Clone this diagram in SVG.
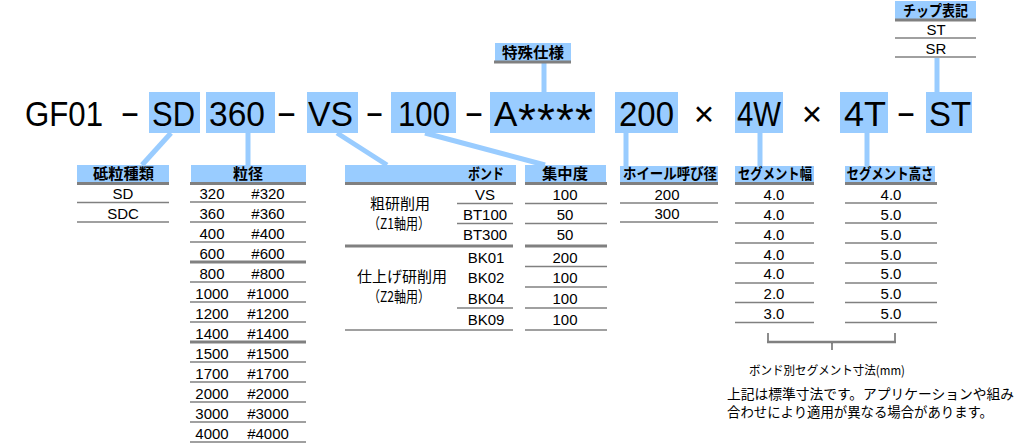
<svg xmlns="http://www.w3.org/2000/svg" width="1028" height="445" viewBox="0 0 1028 445">
<style>
.bg{fill:#ffffff}
.hdr{fill:#99CCFF}
.hl{stroke:#808080;stroke-width:3}
.rl{stroke:#808080;stroke-width:1.5}
.con{stroke:#99CCFF;stroke-width:5;fill:none;stroke-linecap:butt}
.brk{stroke:#404040;stroke-width:1.2;fill:none}
.brh{stroke:#808080;stroke-width:2.5}
.m{font-family:"Liberation Sans",Arial,sans-serif;font-size:35px;fill:#000}
.t{font-family:"Liberation Sans",Arial,sans-serif;font-size:15px;fill:#000;text-anchor:middle}
.j{font-family:"Noto Sans CJK JP",sans-serif;font-size:15px;fill:#000;text-anchor:middle}
.h{font-family:"Noto Sans CJK JP",sans-serif;font-size:15px;font-weight:bold;fill:#000;text-anchor:middle}
.n{font-family:"Noto Sans CJK JP",sans-serif;font-size:14px;fill:#000}
</style>
<rect class="bg" x="0" y="0" width="1028" height="445"/>

<g id="connectors">
<line class="con" x1="171" y1="133" x2="142" y2="165"/>
<line class="con" x1="248" y1="133" x2="248" y2="165"/>
<line class="con" x1="337" y1="133" x2="387" y2="165"/>
<line class="con" x1="425" y1="133" x2="545" y2="165"/>
<line class="con" x1="544" y1="62" x2="544" y2="92"/>
<line class="con" x1="626" y1="133" x2="626" y2="166"/>
<line class="con" x1="760" y1="133" x2="760" y2="166"/>
<line class="con" x1="867" y1="133" x2="867" y2="166"/>
<line class="con" x1="937" y1="58" x2="937" y2="92"/>
</g>

<g id="code">
<rect class="hdr" x="149" y="92" width="51" height="41"/>
<rect class="hdr" x="206" y="92" width="69" height="41"/>
<rect class="hdr" x="307" y="92" width="51" height="41"/>
<rect class="hdr" x="391" y="92" width="65" height="41"/>
<rect class="hdr" x="490" y="92" width="105" height="41"/>
<rect class="hdr" x="615" y="92" width="63" height="41"/>
<rect class="hdr" x="735" y="92" width="48" height="41"/>
<rect class="hdr" x="840" y="92" width="48" height="41"/>
<rect class="hdr" x="926" y="92" width="46" height="41"/>
<text class="m" x="25" y="126" textLength="78" lengthAdjust="spacingAndGlyphs">GF01</text>
<text class="m" x="120" y="124" textLength="20" lengthAdjust="spacingAndGlyphs">-</text>
<text class="m" x="152" y="126" textLength="43" lengthAdjust="spacingAndGlyphs">SD</text>
<text class="m" x="209" y="126" textLength="56" lengthAdjust="spacingAndGlyphs">360</text>
<text class="m" x="276" y="124" textLength="21" lengthAdjust="spacingAndGlyphs">-</text>
<text class="m" x="308" y="126" textLength="45" lengthAdjust="spacingAndGlyphs">VS</text>
<text class="m" x="365" y="124" textLength="19" lengthAdjust="spacingAndGlyphs">-</text>
<text class="m" x="398" y="126" textLength="52" lengthAdjust="spacingAndGlyphs">100</text>
<text class="m" x="464" y="124" textLength="20" lengthAdjust="spacingAndGlyphs">-</text>
<text class="m" x="494" y="126">A<tspan x="518 537 556 575" y="136" font-size="46">****</tspan></text>
<text class="m" x="619" y="126" textLength="55" lengthAdjust="spacingAndGlyphs">200</text>
<text class="m" x="704" y="126" text-anchor="middle">×</text>
<text class="m" x="737" y="126" textLength="44" lengthAdjust="spacingAndGlyphs">4W</text>
<text class="m" x="812" y="126" text-anchor="middle">×</text>
<text class="m" x="844" y="126" textLength="42" lengthAdjust="spacingAndGlyphs">4T</text>
<text class="m" x="896" y="124" textLength="20" lengthAdjust="spacingAndGlyphs">-</text>
<text class="m" x="929" y="126" textLength="42" lengthAdjust="spacingAndGlyphs">ST</text>
</g>

<g id="tokushu">
<rect class="hdr" x="495" y="43" width="76" height="18"/>
<line class="hl" x1="494" y1="62" x2="571" y2="62"/>
<text class="h" x="533" y="57.5" textLength="62" lengthAdjust="spacingAndGlyphs">特殊仕様</text>
</g>

<g id="chip">
<rect class="hdr" x="895" y="1" width="81" height="18"/>
<line class="hl" x1="895" y1="20" x2="976" y2="20"/>
<text class="h" x="935.5" y="15.5" textLength="65" lengthAdjust="spacingAndGlyphs">チップ表記</text>
<text class="t" x="936" y="35">ST</text>
<line class="rl" x1="895" y1="38" x2="976" y2="38"/>
<text class="t" x="936" y="53.5">SR</text>
<line class="rl" x1="895" y1="57" x2="976" y2="57"/>
</g>

<g id="toryu">
<rect class="hdr" x="77" y="165" width="92" height="17"/>
<line class="hl" x1="77" y1="183.5" x2="169" y2="183.5"/>
<text class="h" x="123.5" y="179" textLength="61" lengthAdjust="spacingAndGlyphs">砥粒種類</text>
<text class="t" x="123" y="199">SD</text>
<line class="rl" x1="77" y1="202.5" x2="169" y2="202.5"/>
<text class="t" x="123" y="218.5">SDC</text>
<line class="rl" x1="77" y1="222" x2="169" y2="222"/>
</g>

<g id="ryukei">
<rect class="hdr" x="191" y="165" width="115" height="17"/>
<line class="hl" x1="190" y1="183.5" x2="306" y2="183.5"/>
<text class="h" x="248" y="179" textLength="30" lengthAdjust="spacingAndGlyphs">粒径</text>
<text class="t" x="212" y="198.5">320</text><text class="t" x="268" y="198.5">#320</text>
<line class="rl" x1="190" y1="202" x2="306" y2="202"/>
<text class="t" x="212" y="218.5">360</text><text class="t" x="268" y="218.5">#360</text>
<line class="rl" x1="190" y1="222" x2="306" y2="222"/>
<text class="t" x="212" y="238.5">400</text><text class="t" x="268" y="238.5">#400</text>
<line class="rl" x1="190" y1="242" x2="306" y2="242"/>
<text class="t" x="212" y="258.5">600</text><text class="t" x="268" y="258.5">#600</text>
<line class="hl" x1="190" y1="262" x2="306" y2="262"/>
<text class="t" x="212" y="278.5">800</text><text class="t" x="268" y="278.5">#800</text>
<line class="rl" x1="190" y1="282" x2="306" y2="282"/>
<text class="t" x="212" y="298.5">1000</text><text class="t" x="268" y="298.5">#1000</text>
<line class="rl" x1="190" y1="302" x2="306" y2="302"/>
<text class="t" x="212" y="318.5">1200</text><text class="t" x="268" y="318.5">#1200</text>
<line class="rl" x1="190" y1="322" x2="306" y2="322"/>
<text class="t" x="212" y="338.5">1400</text><text class="t" x="268" y="338.5">#1400</text>
<line class="hl" x1="190" y1="342" x2="306" y2="342"/>
<text class="t" x="212" y="358.5">1500</text><text class="t" x="268" y="358.5">#1500</text>
<line class="rl" x1="190" y1="362" x2="306" y2="362"/>
<text class="t" x="212" y="378.5">1700</text><text class="t" x="268" y="378.5">#1700</text>
<line class="rl" x1="190" y1="382" x2="306" y2="382"/>
<text class="t" x="212" y="398.5">2000</text><text class="t" x="268" y="398.5">#2000</text>
<line class="rl" x1="190" y1="402" x2="306" y2="402"/>
<text class="t" x="212" y="418.5">3000</text><text class="t" x="268" y="418.5">#3000</text>
<line class="rl" x1="190" y1="422" x2="306" y2="422"/>
<text class="t" x="212" y="438.5">4000</text><text class="t" x="268" y="438.5">#4000</text>
<line class="rl" x1="190" y1="442" x2="306" y2="442"/>
</g>

<g id="bond">
<rect class="hdr" x="345" y="165" width="171" height="17"/>
<line class="hl" x1="345" y1="183.5" x2="516" y2="183.5"/>
<text class="h" x="504" y="179" textLength="36" lengthAdjust="spacingAndGlyphs" style="text-anchor:end">ボンド</text>
<text class="j" x="400" y="209">粗研削用</text>
<text class="j" x="399" y="229" textLength="62" lengthAdjust="spacingAndGlyphs">（Z1軸用）</text>
<text class="j" x="402" y="282">仕上げ研削用</text>
<text class="j" x="399" y="302" textLength="62" lengthAdjust="spacingAndGlyphs">（Z2軸用）</text>
<text class="t" x="485" y="199.5">VS</text>
<line class="rl" x1="457" y1="203.5" x2="513" y2="203.5"/>
<text class="t" x="485" y="219.5">BT100</text>
<line class="rl" x1="457" y1="223.5" x2="513" y2="223.5"/>
<text class="t" x="485" y="240">BT300</text>
<line class="hl" x1="345" y1="246" x2="513" y2="246"/>
<text class="t" x="486" y="262.5">BK01</text>
<text class="t" x="486" y="283">BK02</text>
<text class="t" x="486" y="303.5">BK04</text>
<line class="rl" x1="457" y1="308" x2="513" y2="308"/>
<text class="t" x="486" y="325">BK09</text>
<line class="rl" x1="345" y1="330" x2="513" y2="330"/>
</g>

<g id="shuchudo">
<rect class="hdr" x="525" y="165" width="81" height="17"/>
<line class="hl" x1="525" y1="183.5" x2="607" y2="183.5"/>
<text class="h" x="565" y="179" textLength="46" lengthAdjust="spacingAndGlyphs">集中度</text>
<text class="t" x="565" y="199.5">100</text>
<line class="rl" x1="525" y1="203.5" x2="607" y2="203.5"/>
<text class="t" x="565" y="219.5">50</text>
<line class="rl" x1="525" y1="223.5" x2="607" y2="223.5"/>
<text class="t" x="565" y="240">50</text>
<line class="hl" x1="525" y1="246" x2="607" y2="246"/>
<text class="t" x="565" y="262.5">200</text>
<line class="rl" x1="525" y1="266.5" x2="607" y2="266.5"/>
<text class="t" x="565" y="283">100</text>
<line class="rl" x1="525" y1="287" x2="607" y2="287"/>
<text class="t" x="565" y="303.5">100</text>
<line class="rl" x1="525" y1="308" x2="607" y2="308"/>
<text class="t" x="565" y="325">100</text>
<line class="rl" x1="525" y1="330" x2="607" y2="330"/>
</g>

<g id="wheel">
<rect class="hdr" x="620" y="166" width="98" height="16"/>
<line class="hl" x1="620" y1="183.5" x2="718" y2="183.5"/>
<text class="h" x="670" y="179" textLength="94" lengthAdjust="spacingAndGlyphs">ホイール呼び径</text>
<text class="t" x="667" y="199.5">200</text>
<line class="rl" x1="620" y1="203" x2="718" y2="203"/>
<text class="t" x="667" y="218.5">300</text>
<line class="rl" x1="620" y1="222" x2="718" y2="222"/>
</g>

<g id="segwidth">
<rect class="hdr" x="735" y="166" width="79" height="16"/>
<line class="hl" x1="735" y1="183.5" x2="814" y2="183.5"/>
<text class="h" x="775" y="179" textLength="74" lengthAdjust="spacingAndGlyphs">セグメント幅</text>
<text class="t" x="774" y="200">4.0</text>
<line class="rl" x1="735" y1="203" x2="814" y2="203"/>
<text class="t" x="774" y="220">4.0</text>
<line class="rl" x1="735" y1="223" x2="814" y2="223"/>
<text class="t" x="774" y="240">4.0</text>
<line class="rl" x1="735" y1="243" x2="814" y2="243"/>
<text class="t" x="774" y="259.5">4.0</text>
<line class="rl" x1="735" y1="263" x2="814" y2="263"/>
<text class="t" x="774" y="279">4.0</text>
<line class="rl" x1="735" y1="283" x2="814" y2="283"/>
<text class="t" x="774" y="299">2.0</text>
<line class="rl" x1="735" y1="302.5" x2="814" y2="302.5"/>
<text class="t" x="774" y="318.5">3.0</text>
<line class="rl" x1="735" y1="322.5" x2="814" y2="322.5"/>
</g>

<g id="segheight">
<rect class="hdr" x="845" y="166" width="90" height="16"/>
<line class="hl" x1="845" y1="183.5" x2="937" y2="183.5"/>
<text class="h" x="890" y="179" textLength="87" lengthAdjust="spacingAndGlyphs">セグメント高さ</text>
<text class="t" x="891" y="200">4.0</text>
<line class="rl" x1="845" y1="203" x2="937" y2="203"/>
<text class="t" x="891" y="220">5.0</text>
<line class="rl" x1="845" y1="223" x2="937" y2="223"/>
<text class="t" x="891" y="240">5.0</text>
<line class="rl" x1="845" y1="243" x2="937" y2="243"/>
<text class="t" x="891" y="259.5">5.0</text>
<line class="rl" x1="845" y1="263" x2="937" y2="263"/>
<text class="t" x="891" y="279">5.0</text>
<line class="rl" x1="845" y1="283" x2="937" y2="283"/>
<text class="t" x="891" y="299">5.0</text>
<line class="rl" x1="845" y1="302.5" x2="937" y2="302.5"/>
<text class="t" x="891" y="318.5">5.0</text>
<line class="rl" x1="845" y1="322.5" x2="937" y2="322.5"/>
</g>

<g id="bracket">
<line class="brk" x1="768" y1="333" x2="768" y2="342"/>
<line class="brk" x1="895" y1="333" x2="895" y2="342"/>
<line class="brh" x1="767" y1="342" x2="896" y2="342"/>
<line class="brk" x1="832" y1="343" x2="832" y2="350"/>
</g>

<g id="notes">
<text class="n" x="827" y="375" textLength="156" lengthAdjust="spacingAndGlyphs" style="font-size:12.5px;text-anchor:middle">ボンド別セグメント寸法(mm)</text>
<text class="n" x="727" y="399" textLength="287" lengthAdjust="spacingAndGlyphs">上記は標準寸法です。アプリケーションや組み</text>
<text class="n" x="727" y="417" textLength="266" lengthAdjust="spacingAndGlyphs">合わせにより適用が異なる場合があります。</text>
</g>
</svg>
